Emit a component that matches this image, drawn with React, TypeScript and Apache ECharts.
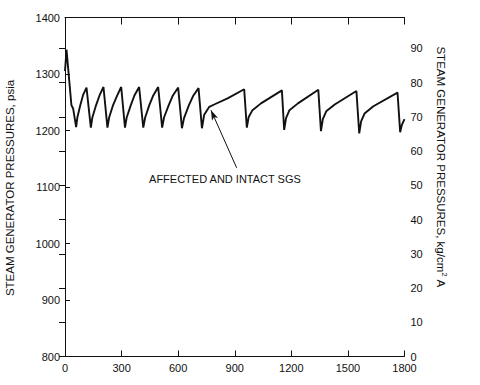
import React, { useEffect, useRef } from "react";
import * as echarts from "echarts";

// Time, s
const times = [
  0, 8, 34, 43, 59, 66, 82, 96, 114,
  137, 145, 165, 183, 204,
  225, 234, 255, 277, 298,
  318, 327, 349, 368, 393,
  415, 425, 447, 468, 494,
  515, 525, 550, 572, 600,
  620, 631, 656, 679, 708,
  726, 738, 765, 791, 862, 950,
  964, 974, 994, 1039, 1150,
  1162, 1172, 1190, 1235, 1343,
  1357, 1367, 1385, 1430, 1545,
  1560, 1570, 1588, 1635, 1763,
  1777, 1786, 1800,
];
// Steam generator pressure, psia
const psia = [
  1305, 1343, 1245, 1239, 1206, 1224, 1246, 1263, 1276,
  1205, 1223, 1245, 1262, 1277,
  1205, 1223, 1245, 1262, 1277,
  1205, 1223, 1245, 1262, 1277,
  1205, 1223, 1245, 1262, 1277,
  1205, 1223, 1245, 1262, 1276,
  1204, 1222, 1244, 1261, 1275,
  1204, 1228, 1242, 1246, 1257, 1273,
  1205, 1224, 1236, 1248, 1271,
  1201, 1222, 1236, 1248, 1272,
  1199, 1220, 1234, 1246, 1270,
  1195, 1216, 1230, 1243, 1267,
  1197, 1210, 1220,
];

const annotationText = "AFFECTED AND INTACT SGS";
const arrowTail = [910, 1134];
const arrowTip = [774, 1236];
const labelAt = [848, 1115];

const FONT = "'Liberation Sans', Arial, sans-serif";
const INK = "#111";

export default function App() {
  const ref = useRef<HTMLDivElement>(null);
  useEffect(() => {
    document.body.style.margin = "0";
    if (!ref.current) return;
    const chart = echarts.init(ref.current, undefined, { renderer: "svg" });
    const data = times.map((t, i) => [t, psia[i]]);
    const axisLine = { show: true, lineStyle: { color: INK, width: 1 } };
    const label = { color: INK, fontSize: 11, fontFamily: FONT, formatter: (v: number) => String(v) };
    chart.setOption({
      animation: false,
      backgroundColor: "#fff",
      textStyle: { fontFamily: FONT },
      grid: { left: 65, right: 75.5, top: 17.5, bottom: 28.5, containLabel: false },
      xAxis: [
        {
          type: "value", position: "bottom", min: 0, max: 1800, interval: 300,
          axisLine, axisTick: { show: true, inside: true, length: 6, lineStyle: { color: INK } },
          axisLabel: { ...label, margin: 6 }, splitLine: { show: false },
        },
        {
          type: "value", position: "top", min: 0, max: 1800, interval: 300,
          axisLine, axisTick: { show: true, inside: true, length: 7, lineStyle: { color: INK } },
          axisLabel: { show: false }, splitLine: { show: false },
        },
      ],
      yAxis: [
        {
          type: "value", position: "left", min: 800, max: 1400, interval: 100,
          axisLine, axisTick: { show: true, inside: true, length: 5, lineStyle: { color: INK } },
          axisLabel: { ...label, margin: 5 }, splitLine: { show: false },
        },
        {
          type: "value", position: "right", min: 0, max: 99, interval: 10,
          axisLine, axisTick: { show: true, inside: true, length: 6, lineStyle: { color: INK } },
          axisLabel: { ...label, margin: 6, showMaxLabel: false },
          splitLine: { show: false },
        },
      ],
      graphic: [
        {
          type: "text", x: 10, y: 188, rotation: Math.PI / 2,
          style: {
            text: "STEAM GENERATOR PRESSURES, psia", fill: INK, fontSize: 11.5,
            fontFamily: FONT, align: "center", verticalAlign: "middle",
          },
        },
        {
          type: "text", x: 441, y: 167, rotation: -Math.PI / 2,
          style: {
            text: "STEAM GENERATOR PRESSURES, kg/cm{sup|2} A", fill: INK, fontSize: 11.5,
            fontFamily: FONT, align: "center", verticalAlign: "middle", lineHeight: 14,
            rich: { sup: { fontSize: 8, lineHeight: 8, verticalAlign: "top", fill: INK, fontFamily: FONT } },
          },
        },
      ],
      series: [
        {
          type: "line", xAxisIndex: 0, yAxisIndex: 0, data,
          symbol: "none", smooth: false,
          lineStyle: { color: INK, width: 1.9 },
          markLine: {
            silent: true, symbol: ["none", "arrow"], symbolSize: [5, 10],
            lineStyle: { color: INK, width: 1, type: "solid" },
            label: { show: false },
            data: [[{ coord: arrowTail }, { coord: arrowTip }]],
          },
          markPoint: {
            silent: true, symbol: "circle", symbolSize: 1,
            itemStyle: { color: "rgba(0,0,0,0)" },
            label: {
              show: true, position: "inside", formatter: annotationText,
              color: INK, fontSize: 11, fontFamily: FONT,
            },
            data: [{ coord: labelAt }],
          },
        },
      ],
    });
    return () => chart.dispose();
  }, []);
  return (
    <div
      ref={ref}
      style={{ position: "absolute", left: 0, top: 0, width: 480, height: 385, background: "#fff" }}
    />
  );
}
